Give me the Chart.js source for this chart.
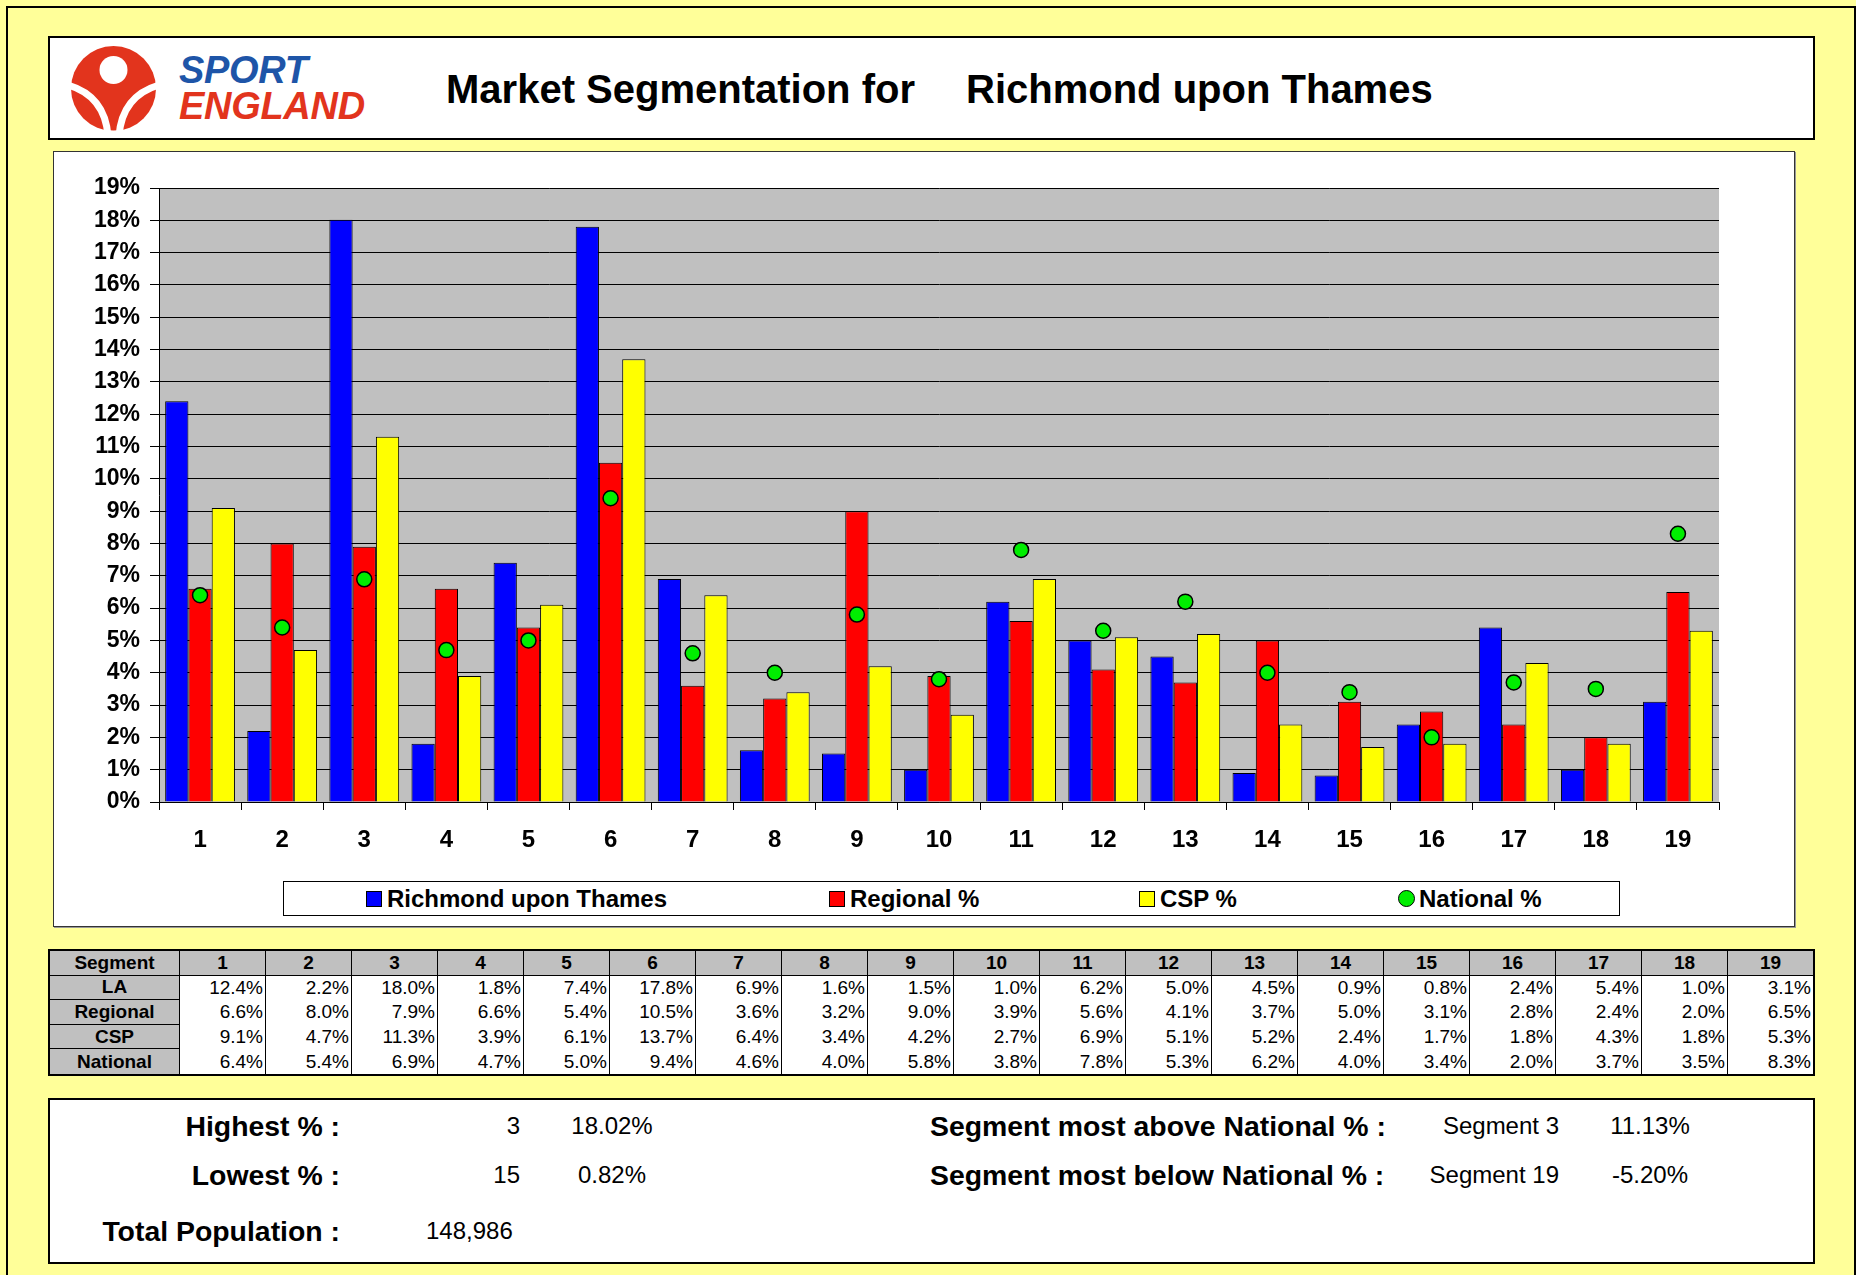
<!DOCTYPE html>
<html><head><meta charset="utf-8">
<script src="https://cdn.jsdelivr.net/npm/chart.js@4.4.0/dist/chart.umd.min.js"></script>
<style>
html,body{margin:0;padding:0;background:#FFFF99;width:1856px;height:1275px;overflow:hidden;font-family:'Liberation Sans',Arial,Helvetica,sans-serif;color:#000;}
.abs{position:absolute;}
#page{left:6px;top:6px;width:1850px;height:1320px;border:2px solid #000;box-sizing:border-box;}
#header{left:48px;top:36px;width:1767px;height:104px;border:2px solid #000;background:#fff;box-sizing:border-box;}
.title{font-weight:bold;font-size:40px;line-height:46px;white-space:nowrap;}
.logoTxt{font-weight:bold;font-style:italic;font-size:38px;line-height:44px;white-space:nowrap;letter-spacing:-0.3px;}
#chartWrap{left:53px;top:152px;width:1741px;height:774px;background:#fff;}
#chartBorder{left:53px;top:151px;width:1742px;height:776px;border:1.5px solid #333;box-sizing:border-box;box-shadow:1px 1px 0 #999;pointer-events:none;}
#legendBox{left:283px;top:881px;width:1337px;height:35px;border:1px solid #000;background:#fff;box-sizing:border-box;}
.legTxt{font-weight:bold;font-size:24px;line-height:30px;white-space:nowrap;}
#table{left:48px;top:949px;border:2px solid #000;display:grid;grid-template-columns:130px repeat(18,86px) 85px;grid-template-rows:repeat(5,24.6px);background:#fff;}
.cell{box-sizing:border-box;border-right:1px solid #000;font-size:19px;display:flex;align-items:center;white-space:nowrap;overflow:hidden;}
.cell.last{border-right:none;}
.hd{background:#C0C0C0;font-weight:bold;justify-content:center;}
.hdrow{border-bottom:1px solid #000;}
.num{justify-content:flex-end;padding-right:2px;}
#stats{left:48px;top:1098px;width:1767px;height:166px;border:2px solid #000;background:#fff;box-sizing:border-box;}
.sb{font-weight:bold;font-size:28.4px;line-height:34px;white-space:nowrap;}
.sr{font-size:24px;line-height:30px;white-space:nowrap;}
</style>
</head>
<body>
<div id="page" class="abs"></div>
<div id="header" class="abs"></div>
<svg class="abs" style="left:0;top:0" width="200" height="150">
  <defs><clipPath id="lc"><rect x="0" y="0" width="200" height="130.5"/></clipPath></defs>
  <g clip-path="url(#lc)"><circle cx="113.5" cy="88.5" r="42.5" fill="#E2341D"/></g>
  <circle cx="113.5" cy="70" r="14" fill="#fff"/>
  <path d="M108,136 Q105,96 68,85" stroke="#fff" stroke-width="7" fill="none"/>
  <path d="M119,136 Q122,96 159,85" stroke="#fff" stroke-width="7" fill="none"/>
</svg>
<div class="abs logoTxt" style="left:179px;top:48px;color:#1E55A8;">SPORT</div>
<div class="abs logoTxt" style="left:179px;top:84px;color:#E2341D;">ENGLAND</div>
<div class="abs title" id="t1" style="left:446px;top:66px;"></div>
<div class="abs title" id="t2" style="left:966px;top:66px;"></div>

<div id="chartWrap" class="abs"><canvas id="c" width="1741" height="774"></canvas></div>
<div id="chartBorder" class="abs"></div>
<div id="legendBox" class="abs"></div>
<div id="legend"></div>

<div id="table" class="abs"></div>

<div id="stats" class="abs"></div>
<div id="statsTxt"></div>

<script>
// ---- data ----
const titleLeft = 'Market Segmentation for';
const areaName = 'Richmond upon Thames';
const segments = ['1','2','3','4','5','6','7','8','9','10','11','12','13','14','15','16','17','18','19'];
const laValues = [12.4, 2.2, 18.02, 1.8, 7.4, 17.8, 6.9, 1.6, 1.5, 1.0, 6.2, 5.0, 4.5, 0.9, 0.82, 2.4, 5.4, 1.0, 3.1];
const regionalValues = [6.6, 8.0, 7.9, 6.6, 5.4, 10.5, 3.6, 3.2, 9.0, 3.9, 5.6, 4.1, 3.7, 5.0, 3.1, 2.8, 2.4, 2.0, 6.5];
const cspValues = [9.1, 4.7, 11.3, 3.9, 6.1, 13.7, 6.4, 3.4, 4.2, 2.7, 6.9, 5.1, 5.2, 2.4, 1.7, 1.8, 4.3, 1.8, 5.3];
const nationalValues = [6.4, 5.4, 6.89, 4.7, 5.0, 9.4, 4.6, 4.0, 5.8, 3.8, 7.8, 5.3, 6.2, 4.0, 3.4, 2.0, 3.7, 3.5, 8.3];
const yTickMax = 19;
const seriesNames = ['Richmond upon Thames', 'Regional %', 'CSP %', 'National %'];
const tableRowNames = ['LA', 'Regional', 'CSP', 'National'];
const tableHeader = 'Segment';
const statLabels = ['Highest % :', 'Lowest % :', 'Total Population :'];
const highestSeg = '3', highestPct = '18.02%';
const lowestSeg = '15', lowestPct = '0.82%';
const totalPopulation = '148,986';
const aboveLabel = 'Segment most above National % :', aboveSeg = 'Segment 3', abovePct = '11.13%';
const belowLabel = 'Segment most below National % :', belowSeg = 'Segment 19', belowPct = '-5.20%';

// ---- styles ----
const colors = ['#0000FF', '#FF0000', '#FFFF00', '#00EE00'];
const FONT = "'Liberation Sans', Arial, Helvetica, sans-serif";

document.getElementById('t1').textContent = titleLeft;
document.getElementById('t2').textContent = areaName;

// ---- chart ----
Chart.defaults.font.family = FONT;
Chart.defaults.color = '#000';
const plotBg = {
  id: 'plotBg',
  beforeDraw(chart) {
    const {ctx, chartArea: a} = chart;
    ctx.save();
    ctx.fillStyle = '#C0C0C0';
    ctx.fillRect(a.left, a.top, a.right - a.left, a.bottom - a.top);
    ctx.restore();
  }
};
const barDs = (i, values) => ({
  label: seriesNames[i], data: values, backgroundColor: colors[i],
  borderColor: '#000', borderWidth: 1, order: 1
});
new Chart(document.getElementById('c'), {
  type: 'bar',
  data: {
    labels: segments,
    datasets: [
      barDs(0, laValues), barDs(1, regionalValues), barDs(2, cspValues),
      {type: 'line', label: seriesNames[3], data: nationalValues, showLine: false,
       pointRadius: 7.5, pointHoverRadius: 7.5, pointBackgroundColor: colors[3],
       pointBorderColor: '#000', pointBorderWidth: 1.5, order: 0}
    ]
  },
  options: {
    responsive: false, animation: false, devicePixelRatio: 1,
    layout: {padding: {left: 0, top: 36, right: 75, bottom: 0}},
    plugins: {legend: {display: false}, tooltip: {enabled: false}},
    datasets: {bar: {categoryPercentage: 0.85, barPercentage: 1.0}},
    scales: {
      x: {
        grid: {display: true, drawOnChartArea: false, drawTicks: true, tickLength: 8, color: '#000', offset: true},
        border: {display: true, color: '#000', width: 1},
        ticks: {font: {size: 24, weight: 'bold'}, color: '#000', padding: 16, maxRotation: 0, autoSkip: false},
        afterFit(s) { s.height = 124; }
      },
      y: {
        min: 0, max: yTickMax,
        grid: {color: '#000', lineWidth: 1, tickLength: 9},
        border: {display: true, color: '#000', width: 1},
        ticks: {stepSize: 1, callback: v => v + '%', font: {size: 23, weight: 'bold'}, color: '#000', padding: 10},
        afterFit(s) { s.width = 106; }
      }
    }
  },
  plugins: [plotBg]
});

// ---- legend ----
const legendX = [366, 829, 1139, 1398];
const legendEl = document.getElementById('legend');
seriesNames.forEach((name, i) => {
  const sw = document.createElement('div');
  sw.className = 'abs';
  if (i === 3) {
    sw.style.cssText = `left:${legendX[i]}px;top:890px;width:17px;height:17px;border-radius:50%;background:${colors[i]};border:1.5px solid #000;box-sizing:border-box;`;
  } else {
    sw.style.cssText = `left:${legendX[i]}px;top:891px;width:16px;height:16px;background:${colors[i]};border:1.5px solid #000;box-sizing:border-box;`;
  }
  legendEl.appendChild(sw);
  const tx = document.createElement('div');
  tx.className = 'abs legTxt';
  tx.style.left = (legendX[i] + 21) + 'px';
  tx.style.top = '884px';
  tx.textContent = name;
  legendEl.appendChild(tx);
});

// ---- table ----
const tbl = document.getElementById('table');
function addCell(text, cls) {
  const d = document.createElement('div');
  d.className = 'cell ' + cls;
  d.textContent = text;
  tbl.appendChild(d);
}
addCell(tableHeader, 'hd hdrow');
segments.forEach((s, j) => addCell(s, 'hd hdrow' + (j === segments.length - 1 ? ' last' : '')));
const rowsData = [laValues, regionalValues, cspValues, nationalValues];
rowsData.forEach((vals, r) => {
  addCell(tableRowNames[r], 'hd' + (r < rowsData.length - 1 ? ' hdrow' : ''));
  vals.forEach((v, j) => addCell(v.toFixed(1) + '%', 'num' + (j === vals.length - 1 ? ' last' : '')));
});

// ---- stats ----
const st = document.getElementById('statsTxt');
function put(text, cls, style) {
  const d = document.createElement('div');
  d.className = 'abs ' + cls;
  d.style.cssText = style;
  d.textContent = text;
  st.appendChild(d);
}
const rowY = [1126, 1175, 1231];
put(statLabels[0], 'sb', `right:${1856-340}px;top:${rowY[0]-17}px;`);
put(statLabels[1], 'sb', `right:${1856-340}px;top:${rowY[1]-17}px;`);
put(statLabels[2], 'sb', `right:${1856-340}px;top:${rowY[2]-17}px;`);
put(highestSeg, 'sr', `right:${1856-520}px;top:${rowY[0]-15}px;`);
put(lowestSeg, 'sr', `right:${1856-520}px;top:${rowY[1]-15}px;`);
put(highestPct, 'sr', `left:512px;width:200px;text-align:center;top:${rowY[0]-15}px;`);
put(lowestPct, 'sr', `left:512px;width:200px;text-align:center;top:${rowY[1]-15}px;`);
put(totalPopulation, 'sr', `left:426px;top:${rowY[2]-15}px;`);
put(aboveLabel, 'sb', `left:930px;top:${rowY[0]-17}px;`);
put(belowLabel, 'sb', `left:930px;top:${rowY[1]-17}px;`);
put(aboveSeg, 'sr', `right:${1856-1559}px;top:${rowY[0]-15}px;`);
put(belowSeg, 'sr', `right:${1856-1559}px;top:${rowY[1]-15}px;`);
put(abovePct, 'sr', `left:1550px;width:200px;text-align:center;top:${rowY[0]-15}px;`);
put(belowPct, 'sr', `left:1550px;width:200px;text-align:center;top:${rowY[1]-15}px;`);
</script>
</body></html>
